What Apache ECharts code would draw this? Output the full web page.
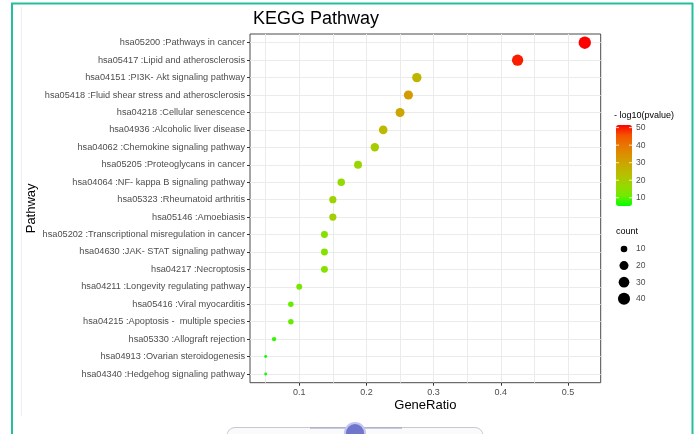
<!DOCTYPE html>
<html>
<head>
<meta charset="utf-8">
<script src="https://cdn.jsdelivr.net/npm/echarts@6/dist/echarts.min.js"></script>
<style>
html,body{margin:0;padding:0;background:#fff;}
#chart{width:699px;height:434px;}
</style>
</head>
<body>
<div id="chart"></div>
<script>
// ---- data ----
const categories = [
  "hsa05200 :Pathways in cancer",
  "hsa05417 :Lipid and atherosclerosis",
  "hsa04151 :PI3K- Akt signaling pathway",
  "hsa05418 :Fluid shear stress and atherosclerosis",
  "hsa04218 :Cellular senescence",
  "hsa04936 :Alcoholic liver disease",
  "hsa04062 :Chemokine signaling pathway",
  "hsa05205 :Proteoglycans in cancer",
  "hsa04064 :NF- kappa B signaling pathway",
  "hsa05323 :Rheumatoid arthritis",
  "hsa05146 :Amoebiasis",
  "hsa05202 :Transcriptional misregulation in cancer",
  "hsa04630 :JAK- STAT signaling pathway",
  "hsa04217 :Necroptosis",
  "hsa04211 :Longevity regulating pathway",
  "hsa05416 :Viral myocarditis",
  "hsa04215 :Apoptosis -  multiple species",
  "hsa05330 :Allograft rejection",
  "hsa04913 :Ovarian steroidogenesis",
  "hsa04340 :Hedgehog signaling pathway"
];
const geneRatio = [0.525, 0.425, 0.275, 0.2625, 0.25, 0.225, 0.2125, 0.1875, 0.1625, 0.15, 0.15, 0.1375, 0.1375, 0.1375, 0.1, 0.0875, 0.0875, 0.0625, 0.05, 0.05];
const counts = [42, 34, 22, 21, 20, 18, 17, 15, 13, 12, 12, 11, 11, 11, 8, 7, 7, 5, 4, 4];
const negLog10P = [51.5, 49.5, 26, 32, 29.5, 25, 20, 17, 16, 18, 19, 14, 14, 14, 12, 10.5, 10.5, 8, 5.3, 5.6];
const xTicks = [0.1, 0.2, 0.3, 0.4, 0.5];
const xGrid = [0.05, 0.1, 0.15, 0.2, 0.25, 0.3, 0.35, 0.4, 0.45, 0.5];
const colorBreaks = [10, 20, 30, 40, 50];
const countBreaks = [10, 20, 30, 40];

// ---- scales ----
const pMin = 5.3, pMax = 51.5;
const cMin = 4, cMax = 42;
function dotSize(c) { return 1.9 * (1.5 + 5 * Math.sqrt((c - cMin) / (cMax - cMin))); }
const gradColors = ['#00FF00', '#70EB00', '#98D700', '#B3C200', '#C8AB00', '#DA9200', '#E87600', '#F45300', '#FF0000'];

const seriesData = categories.map((c, i) => [geneRatio[i], c, negLog10P[i], counts[i]]);

// ---- legend geometry ----
const barLeft = 616, barTop = 125, barW = 16, barH = 81;
function barY(v) { return barTop + (pMax - v) / (pMax - pMin) * barH; }
const font = 'Liberation Sans, Arial, sans-serif';
const graphics = [];
// frame
graphics.push({ type: 'line', shape: { x1: 11, y1: 3.5, x2: 693, y2: 3.5 }, style: { stroke: '#22bf9f', lineWidth: 2 }, silent: true });
graphics.push({ type: 'line', shape: { x1: 12, y1: 3, x2: 12, y2: 434 }, style: { stroke: '#22bf9f', lineWidth: 2 }, silent: true });
graphics.push({ type: 'line', shape: { x1: 692.5, y1: 3, x2: 692.5, y2: 434 }, style: { stroke: '#22bf9f', lineWidth: 2 }, silent: true });
graphics.push({ type: 'line', shape: { x1: 21.5, y1: 7, x2: 21.5, y2: 416 }, style: { stroke: '#eceff7', lineWidth: 1 }, silent: true });
// bottom decoration
graphics.push({ type: 'rect', shape: { x: 227, y: 427.5, width: 256, height: 20, r: 8 }, style: { fill: '#fafafc', stroke: '#c6c8d4', lineWidth: 1 }, silent: true });
graphics.push({ type: 'line', shape: { x1: 310, y1: 428, x2: 402, y2: 428 }, style: { stroke: '#9a9db8', lineWidth: 1 }, silent: true });
graphics.push({ type: 'circle', shape: { cx: 355, cy: 433, r: 10 }, style: { fill: '#7076cc', stroke: '#c2c5ee', lineWidth: 2 }, silent: true });
// colorbar title and labels
graphics.push({ type: 'text', x: 614, y: 116, style: { text: '- log10(pvalue)', fontSize: 9, fontFamily: font, fill: '#000', verticalAlign: 'middle' }, silent: true });
colorBreaks.forEach(v => {
  const y = barY(v);
  graphics.push({ type: 'text', x: 636, y: y, style: { text: String(v), fontSize: 8.5, fontFamily: font, fill: '#4d4d4d', verticalAlign: 'middle' }, silent: true });
  graphics.push({ type: 'line', z: 100, shape: { x1: barLeft, y1: y, x2: barLeft + 3, y2: y }, style: { stroke: '#fff', lineWidth: 0.8 }, silent: true });
  graphics.push({ type: 'line', z: 100, shape: { x1: barLeft + barW - 3, y1: y, x2: barLeft + barW, y2: y }, style: { stroke: '#fff', lineWidth: 0.8 }, silent: true });
});
// count legend
graphics.push({ type: 'text', x: 616, y: 232, style: { text: 'count', fontSize: 9, fontFamily: font, fill: '#000', verticalAlign: 'middle' }, silent: true });
countBreaks.forEach((v, i) => {
  const y = 249 + i * 16.6;
  graphics.push({ type: 'circle', shape: { cx: 624, cy: y, r: dotSize(v) / 2 }, style: { fill: '#000' }, silent: true });
  graphics.push({ type: 'text', x: 636, y: y, style: { text: String(v), fontSize: 8.5, fontFamily: font, fill: '#4d4d4d', verticalAlign: 'middle' }, silent: true });
});

const chart = echarts.init(document.getElementById('chart'), null, { renderer: 'canvas' });
chart.setOption({
  animation: false,
  backgroundColor: '#fff',
  textStyle: { fontFamily: font },
  title: {
    text: 'KEGG Pathway', left: 248, top: 5,
    textStyle: { fontSize: 18, fontWeight: 'normal', color: '#000', fontFamily: font }
  },
  grid: {
    left: 250, top: 34, right: 98.3, bottom: 51.3,
    show: true, backgroundColor: '#fff', borderColor: '#4a4a4a', borderWidth: 1,
    containLabel: false
  },
  xAxis: [
    {
      type: 'value', position: 'bottom', min: 0.0267, max: 0.5487,
      axisLine: { show: false },
      axisTick: { show: true, length: 3, lineStyle: { color: '#333' }, customValues: xTicks },
      axisLabel: { show: true, customValues: xTicks, fontSize: 9, color: '#4d4d4d', margin: 5, fontFamily: font },
      splitLine: { show: false },
      name: 'GeneRatio', nameLocation: 'middle', nameGap: 16, nameMoveOverlap: false,
      nameTextStyle: { fontSize: 13, color: '#000', fontFamily: font }
    },
    {
      type: 'value', position: 'top', min: 0.0267, max: 0.5487,
      axisLine: { show: false },
      axisTick: { show: false, customValues: xGrid },
      axisLabel: { show: false },
      splitLine: { show: true, lineStyle: { color: '#ebebeb', width: 1 } }
    }
  ],
  yAxis: {
    type: 'category', data: categories, inverse: true,
    axisLine: { show: false },
    axisTick: { show: true, length: 3, alignWithLabel: true, lineStyle: { color: '#333' } },
    axisLabel: { fontSize: 9.2, color: '#4d4d4d', margin: 5, interval: 0, fontFamily: font },
    splitLine: { show: true, alignWithLabel: true, lineStyle: { color: '#ebebeb', width: 1 } },
    name: 'Pathway', nameLocation: 'middle', nameRotate: 90, nameGap: 212, nameMoveOverlap: false,
    nameTextStyle: { fontSize: 13, color: '#000', fontFamily: font }
  },
  visualMap: [{
    type: 'continuous', seriesIndex: 0, dimension: 2,
    min: pMin, max: pMax, calculable: false, realtime: false,
    left: barLeft, top: barTop, itemWidth: barW, itemHeight: barH,
    padding: 0, text: null, showLabel: false, hoverLink: false,
    inRange: { color: gradColors }
  }],
  series: [{
    type: 'scatter', xAxisIndex: 0, yAxisIndex: 0,
    data: seriesData,
    symbol: 'circle',
    symbolSize: function (val) { return dotSize(val[3]); },
    itemStyle: { opacity: 1 },
    z: 5
  }],
  graphic: graphics
});
</script>
</body>
</html>
